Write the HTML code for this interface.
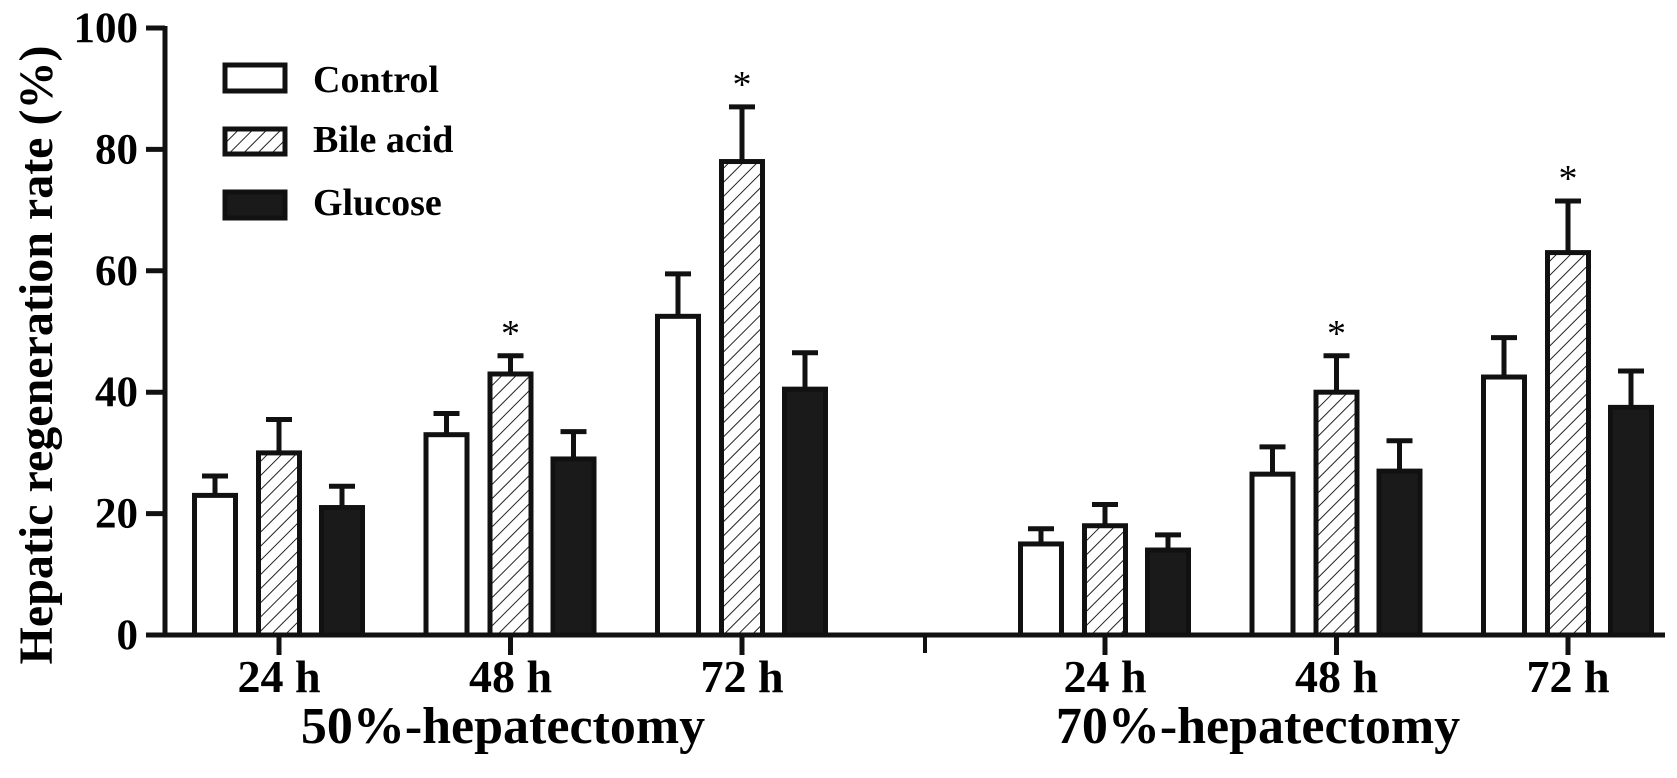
<!DOCTYPE html>
<html><head><meta charset="utf-8"><style>
html,body{margin:0;padding:0;background:#fff;}
svg{display:block;font-family:"Liberation Serif",serif;font-weight:bold;}
</style></head><body>
<svg id="chart" width="1677" height="778" viewBox="0 0 1677 778">
<defs>
<pattern id="hatch" patternUnits="userSpaceOnUse" width="10" height="10" patternTransform="rotate(45)">
<rect width="10" height="10" fill="#fff"/><line x1="0" y1="0" x2="0" y2="10" stroke="#222" stroke-width="2"/>
</pattern>
</defs>
<g id="plot"></g>
<text x="52" y="355" transform="rotate(-90 52 355)" text-anchor="middle" font-size="48">Hepatic regeneration rate (%)</text>
<text x="503" y="743" text-anchor="middle" font-size="52">50%-hepatectomy</text>
<text x="1258" y="743" text-anchor="middle" font-size="52">70%-hepatectomy</text>
<g>
<rect x="225" y="65" width="60" height="26" fill="#fff" stroke="#111" stroke-width="5"/>
<text x="313" y="92" font-size="38">Control</text>
<rect x="225" y="129" width="60" height="25" fill="url(#hatch)" stroke="#111" stroke-width="5"/>
<text x="313" y="152" font-size="38">Bile acid</text>
<rect x="225" y="192" width="60" height="26" fill="#1a1a1a" stroke="#111" stroke-width="5"/>
<text x="313" y="215" font-size="38">Glucose</text>
</g>
</svg>
<script>
const categories = ["24 h","48 h","72 h","24 h","48 h","72 h"];
const controlVals = [23, 33, 52.5, 15, 26.5, 42.5];
const controlErr = [3.2, 3.5, 7, 2.5, 4.5, 6.5];
const bileVals = [30, 43, 78, 18, 40, 63];
const bileErr = [5.5, 3, 9, 3.5, 6, 8.5];
const glucoseVals = [21, 29, 40.5, 14, 27, 37.5];
const glucoseErr = [3.5, 4.5, 6, 2.5, 5, 6];
const starred = [false, true, true, false, true, true];
const yTicks = [0, 20, 40, 60, 80, 100];

const NS = "http://www.w3.org/2000/svg";
const g = document.getElementById("plot");
const y0 = 635, y100 = 28;
function yScale(v){ return y0 - (y0 - y100) * v / 100; }
function xGroup(i){ return (i < 3 ? 279 : 1105) + (i % 3) * 231.5; }
function mk(tag, attrs){ const e = document.createElementNS(NS, tag); for (const k in attrs) e.setAttribute(k, attrs[k]); g.appendChild(e); return e; }

let ax = mk("line",{x1:165,y1:26,x2:165,y2:637,stroke:"#111","stroke-width":5});


ax = mk("line",{x1:163,y1:635,x2:1665,y2:635,stroke:"#111","stroke-width":5});


ax = mk("line",{x1:925,y1:635,x2:925,y2:653,stroke:"#111","stroke-width":4});



yTicks.forEach(t=>{
  const y = yScale(t);
  const tk = mk("line",{x1:146,y1:y,x2:165,y2:y,stroke:"#111","stroke-width":5});
  
  
  const tx = mk("text",{x:138,y:y+14,"text-anchor":"end","font-size":43});
  tx.textContent = t;
  
  
});

const series = [
  {vals:controlVals, err:controlErr, fill:"#fff", off:-64, name:"control"},
  {vals:bileVals, err:bileErr, fill:"url(#hatch)", off:0, name:"bile-acid"},
  {vals:glucoseVals, err:glucoseErr, fill:"#1a1a1a", off:63, name:"glucose"}
];
categories.forEach((c,i)=>{
  const cx = xGroup(i);
  const tk = mk("line",{x1:cx,y1:635,x2:cx,y2:655,stroke:"#111","stroke-width":5});
  
  
  const tx = mk("text",{x:cx,y:692,"text-anchor":"middle","font-size":46});
  tx.textContent = c;
  
  
  series.forEach(s=>{
    const bx = cx + s.off, top = yScale(s.vals[i]), et = yScale(s.vals[i] + s.err[i]);
    const eb = mk("line",{x1:bx,y1:top,x2:bx,y2:et,stroke:"#111","stroke-width":5});
    
    
    const cap = mk("line",{x1:bx-13,y1:et,x2:bx+13,y2:et,stroke:"#111","stroke-width":5});
    
    
    const r = mk("rect",{x:bx-20.5,y:top,width:41,height:635-top,fill:s.fill,stroke:"#111","stroke-width":5});
    
    
  });
  if (starred[i]) {
    const st = mk("text",{x:cx,y:yScale(bileVals[i]+bileErr[i])-10,"text-anchor":"middle","font-size":38,"font-weight":"normal"});
    st.textContent = "*";
    
    
  }
});
</script>
</body></html>
